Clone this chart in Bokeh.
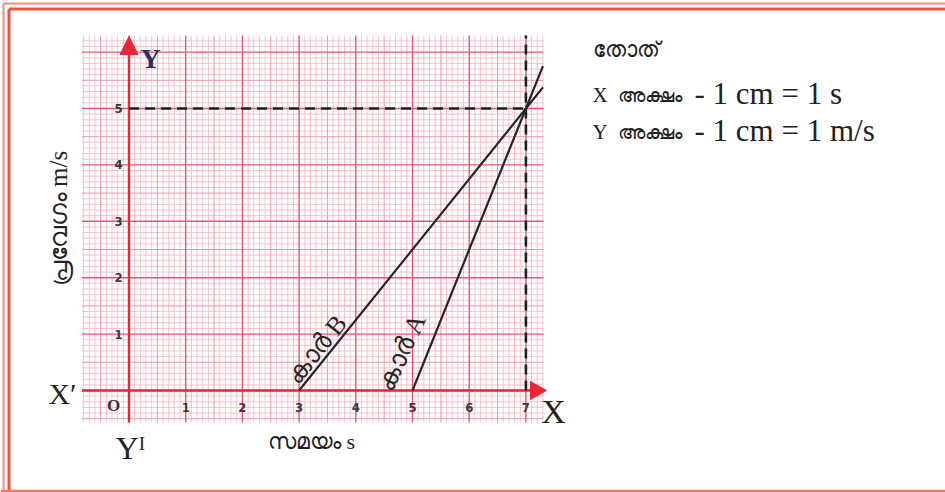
import numpy as np
from bokeh.plotting import figure
from bokeh.models import Range1d
from bokeh.core.properties import value
from bokeh.embed import file_html
from bokeh.resources import INLINE

# ---- chart values -------------------------------------------------------
time_ticks = [1, 2, 3, 4, 5, 6, 7]          # s
speed_ticks = [1, 2, 3, 4, 5]               # m/s
car_a_time = [5, 7, 7.3]
car_a_speed = [0, 5, 5.75]
car_b_time = [3, 7, 7.3]
car_b_speed = [0, 5, 5.375]
meet_time = 7
meet_speed = 5

x_title = "സമയം s"
y_title = "പ്രവേഗം m/s"
car_a_label = "കാർ A"
car_b_label = "കാർ B"
scale_title = "തോത്"
scale_axis_word = "അക്ഷം"
scale_rows = [("X", "- 1 cm = 1 s"), ("Y", "- 1 cm = 1 m/s")]

# ---- canvas geometry: 1 data unit = 1 cm on the graph paper -------------
W, H = 945, 492
OX, OY = 128.5, 390.0      # where the origin sits on the canvas
UX, UY = 56.7, 56.4        # pixels per unit


def sx(px):
    return (px - OX) / UX


def sy(py):
    return (OY - py) / UY


p = figure(width=W, height=H, output_backend="svg", toolbar_location=None,
           x_range=Range1d(sx(0), sx(W)), y_range=Range1d(sy(H), sy(0)),
           min_border=0)
p.axis.visible = False
p.grid.visible = False
p.outline_line_color = None
p.background_fill_color = "white"
p.border_fill_color = "white"

SERIF = value("Liberation Serif")
TICK_FONT = value("DejaVu Sans Condensed")

# ---- page border ---------------------------------------------------------
border = "#ef5140"
p.line([sx(3), sx(3)], [sy(H), sy(3)], line_color="#f48a78", line_width=2)
p.line([sx(3), sx(W)], [sy(3), sy(3)], line_color="#f48a78", line_width=2)
p.line([sx(8.5), sx(8.5)], [sy(H), sy(8.5)], line_color=border, line_width=3)
p.line([sx(8.5), sx(W)], [sy(8.5), sy(8.5)], line_color=border, line_width=3)
p.line([sx(0), sx(W)], [sy(490.5), sy(490.5)], line_color="#f07a5c", line_width=2.5)

# ---- graph paper ---------------------------------------------------------
left, right = sx(81.5), sx(543)
bottom, top = sy(422), sy(35)

xi = np.arange(int(np.ceil(left * 10)), int(np.floor(right * 10)) + 1)
yi = np.arange(int(np.ceil(bottom * 10)), int(np.floor(top * 10)) + 1)

styles = [
    (lambda i: i % 5 != 0, "#f5b4c0", 0.8),
    (lambda i: i % 5 == 0 and i % 10 != 0, "#f097a8", 1.0),
    (lambda i: i % 10 == 0, "#ec5672", 1.4),
]
for keep, color, width in styles:
    xs = [i / 10 for i in xi if keep(i)]
    ys = [i / 10 for i in yi if keep(i)]
    p.segment(x0=xs, y0=[bottom] * len(xs), x1=xs, y1=[top] * len(xs),
              line_color=color, line_width=width)
    p.segment(x0=[left] * len(ys), y0=ys, x1=[right] * len(ys), y1=ys,
              line_color=color, line_width=width)

# ---- axes with arrow heads ----------------------------------------------
axis_red = "#ee2536"
p.line([left, sx(532)], [0, 0], line_color=axis_red, line_width=2.4)
p.line([0, 0], [bottom, sy(52)], line_color=axis_red, line_width=2.4)
p.patch([sx(530), sx(530), sx(546)], [sy(381), sy(399), sy(390)],
        fill_color=axis_red, line_color=axis_red)
p.patch([sx(OX - 9), sx(OX + 9), 0], [sy(54), sy(54), sy(36)],
        fill_color=axis_red, line_color=axis_red)

# ---- tick numbers --------------------------------------------------------
p.text(x=time_ticks, y=[sy(407)] * len(time_ticks),
       text=[str(t) for t in time_ticks], text_font=TICK_FONT,
       text_font_size="13px", text_font_style="bold", text_color="#3a3a3a",
       text_align="center", text_baseline="middle")
p.text(x=[sx(118)] * len(speed_ticks), y=speed_ticks,
       text=[str(v) for v in speed_ticks], text_font=TICK_FONT,
       text_font_size="13px", text_font_style="bold", text_color="#3a3a3a",
       text_align="center", text_baseline="middle")
p.text(x=[sx(113)], y=[sy(405)], text=["O"], text_font=SERIF,
       text_font_size="17px", text_font_style="bold", text_color="#333333",
       text_align="center", text_baseline="middle")

# ---- guide lines through the meeting point ------------------------------
p.line([0, meet_time], [meet_speed, meet_speed], line_color="#1e1e1e",
       line_width=2.6, line_dash="10 6")
p.line([meet_time, meet_time], [0, top], line_color="#1e1e1e",
       line_width=2.6, line_dash="10 6")

# ---- the two cars --------------------------------------------------------
p.line(car_a_time, car_a_speed, line_color="#262626", line_width=2.2)
p.line(car_b_time, car_b_speed, line_color="#262626", line_width=2.2)

p.text(x=[sx(316)], y=[sy(349)], text=[car_b_label],
       angle=np.arctan(1.25 * UY / UX), text_font=SERIF,
       text_font_size="26px", text_color="#262626",
       text_align="center", text_baseline="middle")
p.text(x=[sx(401)], y=[sy(352)], text=[car_a_label],
       angle=np.arctan(2.5 * UY / UX) - 0.05, text_font=SERIF,
       text_font_size="26px", text_color="#262626",
       text_align="center", text_baseline="middle")

# ---- axis letters and titles --------------------------------------------
p.text(x=[sx(150)], y=[sy(58)], text=["Y"], text_font=SERIF,
       text_font_size="28px", text_font_style="bold", text_color="#2c2f66",
       text_align="center", text_baseline="middle")
p.text(x=[sx(62)], y=[sy(393)], text=["X′"], text_font=SERIF,
       text_font_size="30px", text_color="#222222",
       text_align="center", text_baseline="middle")
p.text(x=[sx(553)], y=[sy(411)], text=["X"], text_font=SERIF,
       text_font_size="34px", text_color="#222222",
       text_align="center", text_baseline="middle")
p.text(x=[sx(130)], y=[sy(447)], text=["Yᴵ"], text_font=SERIF,
       text_font_size="32px", text_color="#222222",
       text_align="center", text_baseline="middle")

p.text(x=[sx(311)], y=[sy(441)], text=[x_title], text_font=SERIF,
       text_font_size="22px", text_color="#222222",
       text_align="center", text_baseline="middle")
p.text(x=[sx(58)], y=[sy(218)], text=[y_title], angle=np.pi / 2,
       text_font=SERIF, text_font_size="25px", text_color="#222222",
       text_align="center", text_baseline="middle")

# ---- scale note on the right --------------------------------------------
p.text(x=[sx(592)], y=[sy(49)], text=[scale_title], text_font=SERIF,
       text_font_size="22px", text_color="#222222",
       text_align="left", text_baseline="middle")
for (letter, rule), ypx in zip(scale_rows, [93, 130]):
    p.text(x=[sx(592)], y=[sy(ypx + 1)], text=[letter], text_font=SERIF,
           text_font_size="21px", text_color="#222222",
           text_align="left", text_baseline="middle")
    p.text(x=[sx(617)], y=[sy(ypx + 1)], text=[scale_axis_word],
           text_font=SERIF, text_font_size="20px", text_color="#222222",
           text_align="left", text_baseline="middle")
    p.text(x=[sx(694)], y=[sy(ypx)], text=[rule], text_font=SERIF,
           text_font_size="31px", text_color="#222222",
           text_align="left", text_baseline="middle")

open("out.html", "w").write(file_html(p, INLINE))
